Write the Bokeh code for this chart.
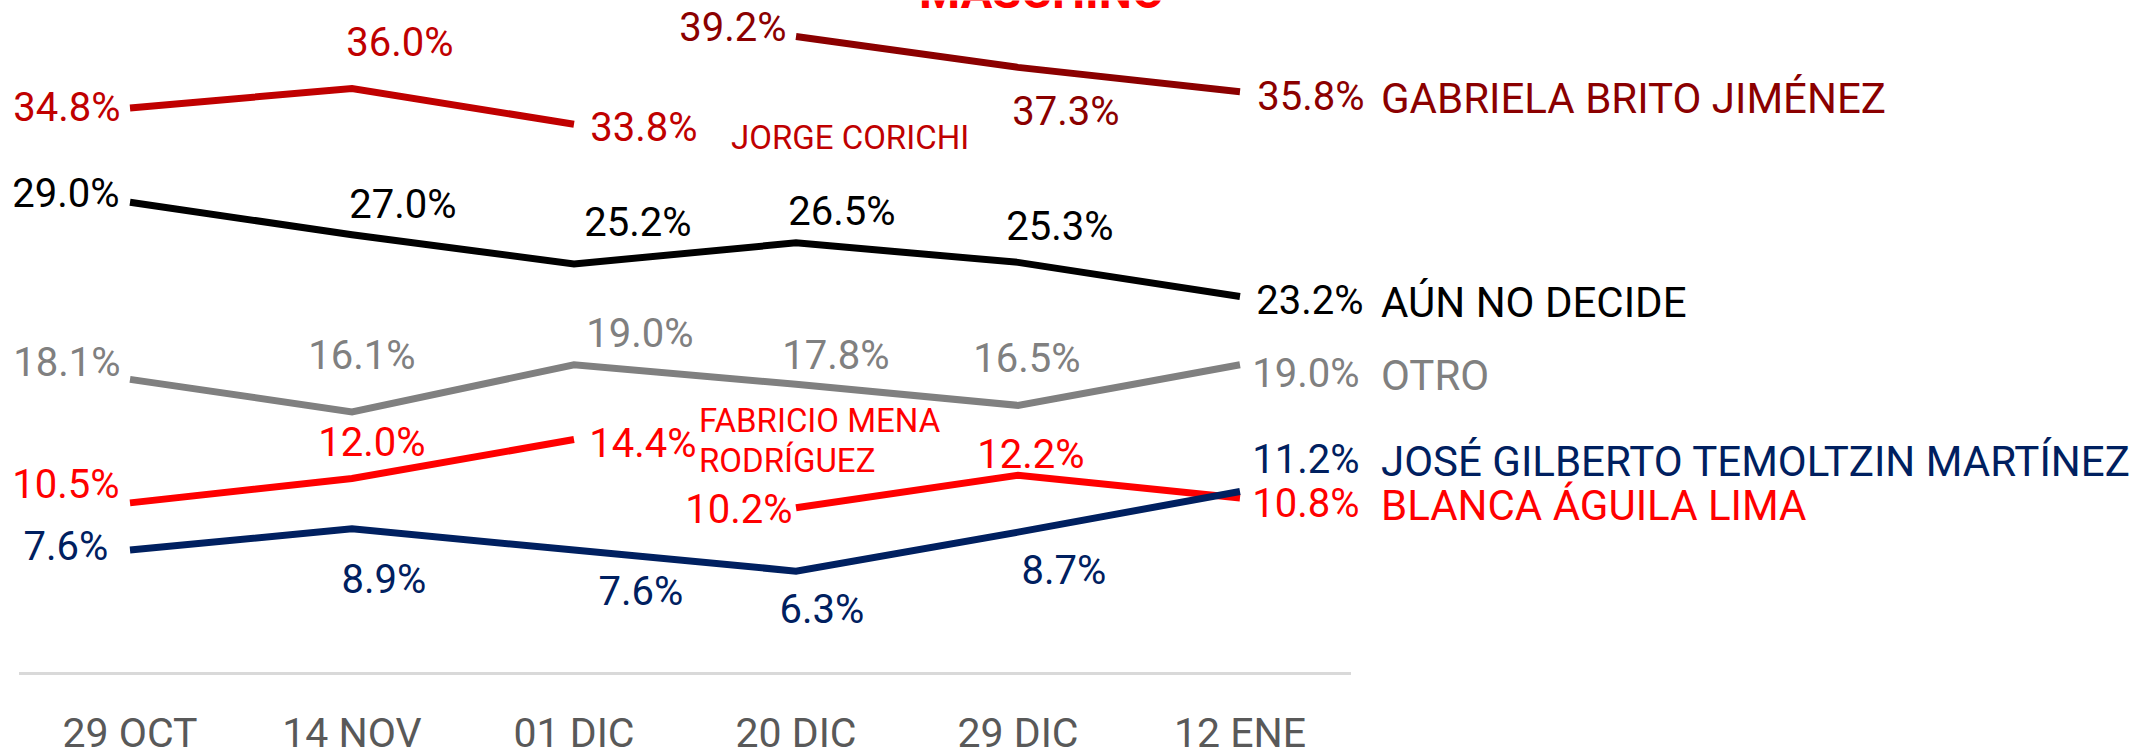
import math
from bokeh.plotting import figure
from bokeh.models import ColumnDataSource, Range1d, LinearAxis, FixedTicker
from bokeh.core.properties import value
from bokeh.embed import file_html
from bokeh.resources import INLINE

NaN = float("nan")

# ---------------- data ----------------
fechas = ["29 OCT", "14 NOV", "01 DIC", "20 DIC", "29 DIC", "12 ENE"]
jorge_corichi = [34.8, 36.0, 33.8, NaN, NaN, NaN]
gabriela_brito = [NaN, NaN, NaN, 39.2, 37.3, 35.8]
aun_no_decide = [29.0, 27.0, 25.2, 26.5, 25.3, 23.2]
otro = [18.1, 16.1, 19.0, 17.8, 16.5, 19.0]
fabricio_mena = [10.5, 12.0, 14.4, NaN, NaN, NaN]
blanca_aguila = [NaN, NaN, NaN, 10.2, 12.2, 10.8]
jose_temoltzin = [7.6, 8.9, 7.6, 6.3, 8.7, 11.2]

# ---------------- layout (label offsets in px) ----------------
FONT = "Roboto"
VDY = 3   # common vertical nudge of value labels
NDY = 5   # common vertical nudge of name labels
series = [
    dict(vals=jorge_corichi, color="#C00000",
         dx=[-63, 48, 70, 0, 0, 0], dy=[-3, -49, 0, 0, 0, 0],
         name="JORGE CORICHI", name_i=2, name_dx=157, name_dy=8, name_size="33px"),
    dict(vals=gabriela_brito, color="#8B0000",
         dx=[0, 0, 0, -63, 48, 71], dy=[0, 0, 0, -12, 41, 2],
         name="GABRIELA BRITO JIMÉNEZ", name_i=5, name_dx=141, name_dy=2, name_size="42px"),
    dict(vals=aun_no_decide, color="#000000",
         dx=[-64, 51, 64, 46, 42, 70], dy=[-12, -33, -44, -34, -39, 1],
         name="AÚN NO DECIDE", name_i=5, name_dx=141, name_dy=1, name_size="42px"),
    dict(vals=otro, color="#808080",
         dx=[-63, 10, 66, 40, 9, 66], dy=[-20, -59, -34, -32, -50, 6],
         name="OTRO", name_i=5, name_dx=141, name_dy=6, name_size="42px"),
    dict(vals=fabricio_mena, color="#FF0000",
         dx=[-64, 20, 69, 0, 0, 0], dy=[-21, -39, 1, 0, 0, 0],
         name="FABRICIO MENA\nRODRÍGUEZ", name_i=2, name_dx=125, name_dy=-4, name_size="33px"),
    dict(vals=blanca_aguila, color="#FF0000",
         dx=[0, 0, 0, -57, 13, 66], dy=[0, 0, 0, -1, -24, 3],
         name="BLANCA ÁGUILA LIMA", name_i=5, name_dx=141, name_dy=3, name_size="42px"),
    dict(vals=jose_temoltzin, color="#002060",
         dx=[-64, 32, 67, 26, 46, 66], dy=[-6, 48, 39, 35, 35, -35],
         name="JOSÉ GILBERTO TEMOLTZIN MARTÍNEZ", name_i=5, name_dx=141, name_dy=-35, name_size="42px"),
]

xs = list(range(len(fechas)))

p = figure(frame_width=2150, frame_height=692,
           x_range=Range1d(-0.5833, 9.1014), y_range=Range1d(-1.17, 41.415),
           output_backend="svg", toolbar_location=None,
           x_axis_type=None, y_axis_type=None,
           min_border_left=0, min_border_right=0, min_border_top=0, min_border_bottom=0)
p.outline_line_color = None
p.xgrid.visible = False
p.ygrid.visible = False
p.background_fill_color = "white"
p.border_fill_color = "white"

# baseline
p.segment(x0=[xs[0] - 0.5], x1=[xs[-1] + 0.5], y0=[0], y1=[0],
          line_color="#D9D9D9", line_width=3)

# x axis
ax = LinearAxis(ticker=FixedTicker(ticks=xs),
                major_label_overrides={i: f for i, f in enumerate(fechas)})
ax.axis_line_color = None
ax.major_tick_line_color = None
ax.minor_tick_line_color = None
ax.major_tick_out = 0
ax.major_tick_in = 0
ax.major_label_standoff = 16
ax.major_label_text_font = FONT
ax.major_label_text_font_size = "41px"
ax.major_label_text_line_height = 1.0
ax.major_label_text_color = "#595959"
p.add_layout(ax, "below")

for s in series:
    vals = s["vals"]
    p.line(xs, vals, line_color=s["color"], line_width=7, line_join="miter")
    keep = [i for i, v in enumerate(vals) if not math.isnan(v)]
    src = ColumnDataSource(dict(
        x=[xs[i] for i in keep],
        y=[vals[i] for i in keep],
        t=[f"{vals[i]:.1f}%" for i in keep],
        dx=[s["dx"][i] for i in keep],
        dy=[s["dy"][i] + VDY for i in keep],
    ))
    p.text(x="x", y="y", text="t", x_offset="dx", y_offset="dy", source=src,
           text_align="center", text_baseline="middle",
           text_font=value(FONT), text_font_size="40px", text_color=s["color"])
    ni = s["name_i"]
    p.text(x=[xs[ni]], y=[vals[ni]], text=[s["name"]],
           x_offset=s["name_dx"], y_offset=s["name_dy"] + NDY,
           text_align="left", text_baseline="middle", text_line_height=1.05,
           text_font=value(FONT), text_font_size=s["name_size"], text_color=s["color"])

# clipped title at the very top
p.text(x=[4.107], y=[40.985], y_offset=-16, text=["MASCHINO"], text_align="center",
       text_baseline="alphabetic", text_font=value(FONT), text_font_style="bold",
       text_font_size="47px", text_color="#FF0000")

open("out.html", "w").write(file_html(p, INLINE))
